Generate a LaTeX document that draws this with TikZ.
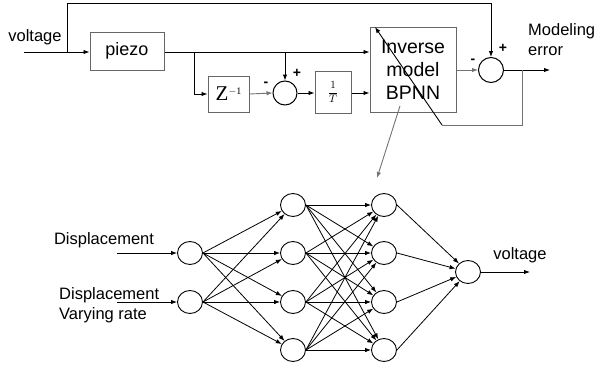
\documentclass[tikz,border=0pt]{standalone}
\usepackage{fontspec}
\setmainfont{Liberation Sans}
\newfontfamily\eqfont{Liberation Serif}
\usetikzlibrary{arrows.meta,positioning,shapes.geometric}
\begin{document}
\begin{tikzpicture}[x=1pt,y=-1pt,
  tip/.style={-{Latex[length=6pt,width=4.5pt]}},
  conn/.style={tip,draw=black,line width=0.9pt},
  gconn/.style={tip,draw=black!55,line width=0.9pt},
  wire/.style={draw=black,line width=0.9pt},
  gwire/.style={draw=black!55,line width=0.9pt},
  blockbox/.style={draw=black!60,line width=1pt,rectangle,inner sep=0pt},
  sumnode/.style={draw=black,line width=1pt,circle,minimum size=24pt,inner sep=0pt},
  neuron/.style={draw=black,line width=0.9pt,ellipse,minimum width=25pt,minimum height=23pt,inner sep=0pt},
  lbl/.style={font=\fontsize{16.5}{20}\selectfont,inner sep=0pt},
  sgn/.style={font=\fontsize{14}{14}\selectfont\bfseries,inner sep=0pt}]
\useasboundingbox (0,0) rectangle (598,367);

% ---------- block diagram ----------
\node[lbl] (vin) at (35,37) {voltage};
\node[blockbox,minimum width=74pt,minimum height=38pt] (piezo) at (127,51)
  {\fontsize{18}{20}\selectfont piezo};
\node[blockbox,minimum width=41pt,minimum height=36pt] (zdel) at (228.5,94)
  {\eqfont\fontsize{21}{21}\selectfont Z\raisebox{6pt}{\fontsize{10}{10}\selectfont $-$1}};
\node[sumnode] (s1) at (285,93) {};
\node[blockbox,minimum width=36pt,minimum height=42pt] (inte) at (333,92)
  {\fontsize{11}{11}\selectfont$\displaystyle\frac{1}{T}$};
\node[blockbox,minimum width=86pt,minimum height=85pt,align=center,
      font=\fontsize{19.5}{23}\selectfont] (inv) at (413,69.5)
  {Inverse\\model\\BPNN};
\node[sumnode,minimum size=25pt] (s2) at (491,70) {};
\node[lbl,align=left,anchor=west] (merr) at (528,40)
  {Modeling\\error};

\coordinate (in) at (24,52);
\coordinate (tap) at (67,52);
\coordinate (topL) at (67,3);
\coordinate (topR) at (491,3);
\coordinate (tapz) at (194,52);
\coordinate (taps) at (285,52);
\coordinate (yout) at (550,70);
\coordinate (fbA) at (522,70);
\coordinate (fbB) at (522,125);
\coordinate (fbC) at (442,125);
\coordinate (fbEnd) at (375,27);

\draw[conn] (in) -- (piezo.west |- in);
\draw[wire] (tap) -- (topL) -- (topR);
\draw[conn] (topR) -- (s2.north);
\draw[conn] (piezo.east |- in) -- (inv.west |- in);
\draw[conn] (tapz) |- (zdel.west);
\draw[conn] (taps) -- (s1.north);
\draw[gconn] (zdel.east) -- (s1.west);
\draw[conn] (s1.east) -- (inte.west |- s1.east);
\draw[conn] (inte.east |- s1.east) -- (inv.west |- s1.east);
\draw[gconn] (inv.east |- s2.west) -- (s2.west);
\draw[conn] (s2.east) -- (yout);
\draw[gwire] (fbA) -- (fbB) -- (fbC);
\draw[conn] (fbC) -- (fbEnd);

\node[sgn] at (266,84) {-};
\node[sgn] at (297,73) {+};
\node[sgn] at (473,61) {-};
\node[sgn] at (503,48) {+};

% ---------- neural network ----------
\node[neuron] (i1) at (190,253) {};
\node[neuron] (i2) at (190,302) {};
\foreach \k/\y in {1/205,2/253,3/302,4/350}{
  \node[neuron] (h\k) at (293,\y) {};
  \node[neuron] (g\k) at (384,\y) {};
}
\node[neuron] (o) at (468,272) {};

\foreach \a in {1,2}
  \foreach \b in {1,2,3,4}
    \draw[conn,line width=0.8pt] (i\a.east) -- (h\b);
\foreach \a in {1,...,4}
  \foreach \b in {1,...,4}
    \draw[conn,line width=0.8pt] (h\a.east) -- (g\b);
\foreach \a in {1,...,4}
  \draw[conn,line width=0.8pt] (g\a.east) -- (o);

\coordinate (x1) at (117,253);
\coordinate (x2) at (117,302);
\coordinate (yo) at (530,272);
\draw[conn] (x1) -- (i1.west);
\draw[conn] (x2) -- (i2.west);
\draw[conn] (o.east) -- (yo);

\node[lbl] (d1) at (104,240) {Displacement};
\node[lbl,align=left,anchor=west] (d2) at (59,305) {Displacement\\Varying rate};
\node[lbl] (vout) at (520,255) {voltage};

% link from the BPNN block to its network
\coordinate (lk1) at (400,106);
\coordinate (lk2) at (377,178);
\draw[gconn] (lk1) -- (lk2);
\end{tikzpicture}
\end{document}
